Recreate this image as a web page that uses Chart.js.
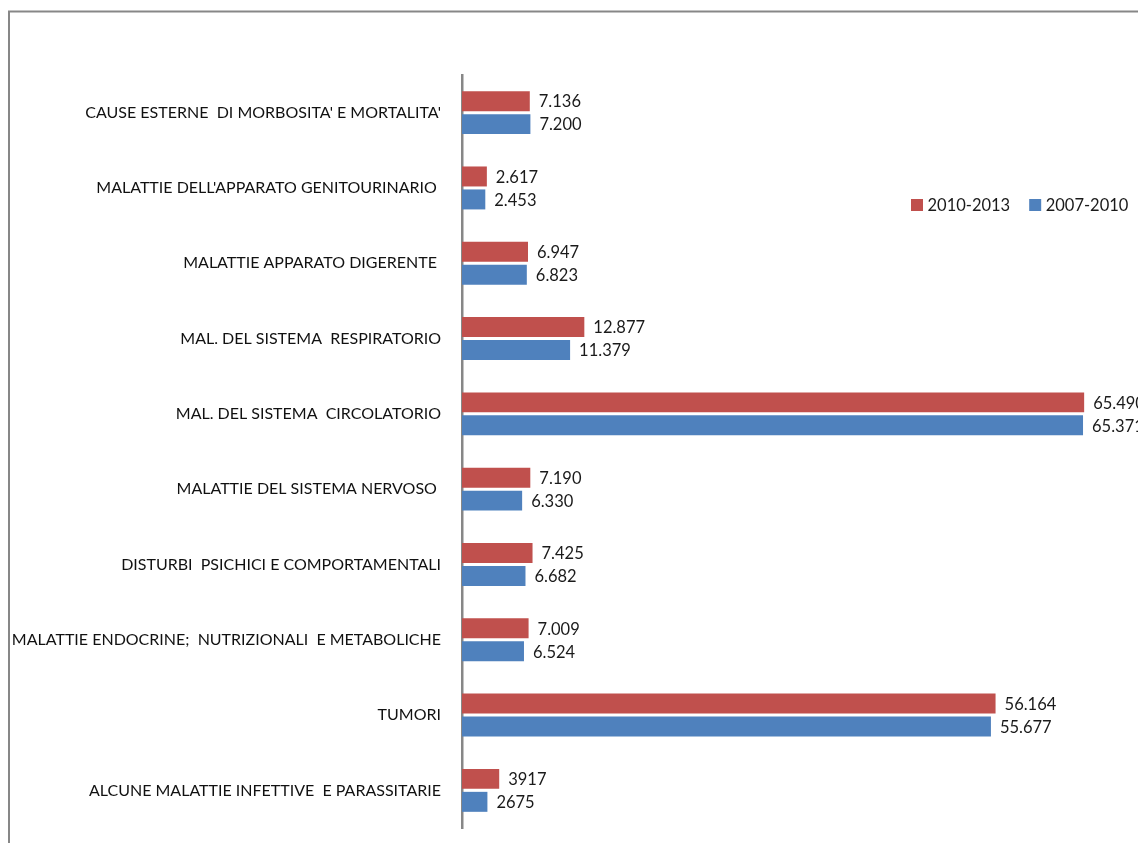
<!DOCTYPE html>
<html lang="it">
<head>
<meta charset="utf-8">
<title>Ricoveri per causa</title>
<script src="https://cdn.jsdelivr.net/npm/chart.js@4.4.1/dist/chart.umd.min.js"></script>
<style>
  html, body { margin: 0; padding: 0; background: #ffffff; overflow: hidden; }
  #wrap { position: relative; width: 1138px; height: 843px; }
  canvas { display: block; }
</style>
</head>
<body>
<div id="wrap"><canvas id="chart" width="1138" height="843"></canvas></div>
<script>
// Categories, top to bottom
const categories = [
  "CAUSE ESTERNE  DI MORBOSITA' E MORTALITA'",
  "MALATTIE DELL'APPARATO GENITOURINARIO ",
  "MALATTIE APPARATO DIGERENTE ",
  "MAL. DEL SISTEMA  RESPIRATORIO",
  "MAL. DEL SISTEMA  CIRCOLATORIO",
  "MALATTIE DEL SISTEMA NERVOSO ",
  "DISTURBI  PSICHICI E COMPORTAMENTALI",
  "MALATTIE ENDOCRINE;  NUTRIZIONALI  E METABOLICHE",
  "TUMORI",
  "ALCUNE MALATTIE INFETTIVE  E PARASSITARIE"
];

const seriesNames = ["2010-2013", "2007-2010"];
const values2010_2013 = [7136, 2617, 6947, 12877, 65490, 7190, 7425, 7009, 56164, 3917];
const values2007_2010 = [7200, 2453, 6823, 11379, 65371, 6330, 6682, 6524, 55677, 2675];

// Categories whose value labels are printed without thousands separator
const ungroupedLabelRows = [9];

const seriesColors = ["#C0504D", "#4F81BD"];
const FONT = "Lato, 'Open Sans', sans-serif";

function formatValue(v, row) {
  const s = String(Math.round(v));
  if (ungroupedLabelRows.includes(row)) return s;
  return s.replace(/\B(?=(\d{3})+(?!\d))/g, ".");
}

// Gray frame around the chart
const framePlugin = {
  id: 'frame',
  beforeDraw(chart) {
    const ctx = chart.ctx;
    ctx.save();
    ctx.strokeStyle = '#878787';
    ctx.lineWidth = 2;
    ctx.beginPath();
    ctx.moveTo(9, 900);
    ctx.lineTo(9, 11.5);
    ctx.lineTo(1200, 11.5);
    ctx.stroke();
    ctx.restore();
  }
};

// Value labels at the end of each bar
const valueLabelPlugin = {
  id: 'valueLabels',
  afterDatasetsDraw(chart) {
    const ctx = chart.ctx;
    ctx.save();
    ctx.font = '16.5px ' + FONT;
    ctx.fillStyle = '#1a1a1a';
    ctx.textAlign = 'left';
    ctx.textBaseline = 'middle';
    chart.data.datasets.forEach((ds, di) => {
      const meta = chart.getDatasetMeta(di);
      meta.data.forEach((bar, i) => {
        ctx.fillText(formatValue(ds.data[i], i), bar.x + 9, bar.y + 1);
      });
    });
    ctx.restore();
  }
};

// Legend drawn in the upper right of the plot
const legendPlugin = {
  id: 'sideLegend',
  afterDraw(chart) {
    const ctx = chart.ctx;
    ctx.save();
    ctx.font = '16.5px ' + FONT;
    ctx.textBaseline = 'middle';
    ctx.textAlign = 'left';
    let x = 911;
    const y = 205;
    chart.data.datasets.forEach((ds) => {
      ctx.fillStyle = ds.backgroundColor;
      ctx.fillRect(x, y - 6, 12, 12);
      ctx.fillStyle = '#1a1a1a';
      ctx.fillText(ds.label, x + 16.5, y + 1);
      x += 16.5 + ctx.measureText(ds.label).width + 19;
    });
    ctx.restore();
  }
};

new Chart(document.getElementById('chart'), {
  type: 'bar',
  data: {
    labels: categories,
    datasets: [
      { label: seriesNames[0], data: values2010_2013, backgroundColor: seriesColors[0] },
      { label: seriesNames[1], data: values2007_2010, backgroundColor: seriesColors[1] }
    ]
  },
  options: {
    indexAxis: 'y',
    responsive: false,
    animation: false,
    devicePixelRatio: 1,
    layout: { padding: { top: 75, bottom: 15, right: 11, left: 0 } },
    categoryPercentage: 0.61,
    barPercentage: 0.87,
    plugins: {
      legend: { display: false },
      tooltip: { enabled: false }
    },
    scales: {
      x: {
        display: false,
        min: 0,
        max: 70000
      },
      y: {
        grid: { display: false, drawTicks: false },
        border: { display: true, color: '#878787', width: 2.5 },
        ticks: {
          padding: 21,
          color: '#111111',
          font: { family: FONT, size: 16 }
        },
        afterFit(scale) {
          scale.width = 462;
          scale.paddingTop = 0;
          scale.paddingBottom = 0;
        }
      }
    }
  },
  plugins: [framePlugin, valueLabelPlugin, legendPlugin]
});
</script>
</body>
</html>
